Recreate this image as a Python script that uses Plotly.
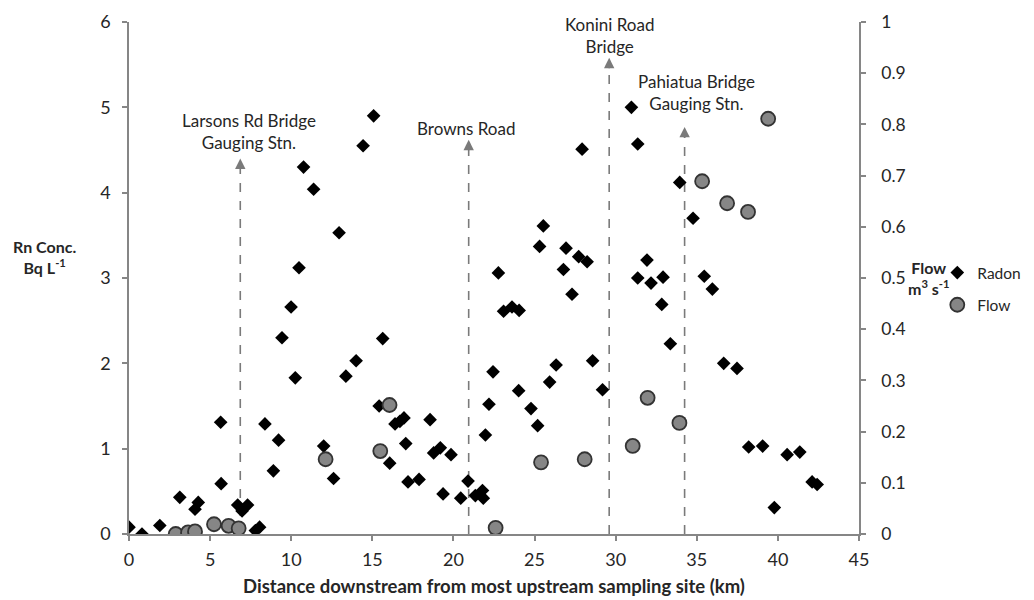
import plotly.graph_objects as go

# ---- data ----
radon_km = [0.0, 0.8, 1.9, 3.13, 4.07, 4.27, 5.65, 5.68, 6.70, 6.97, 7.31, 7.79, 8.05,
            8.38, 8.90, 9.22, 9.43, 9.99, 10.25, 10.48, 10.76, 11.38, 12.0, 12.61, 12.95,
            13.37, 14.0, 14.43, 15.08, 15.42, 15.64, 16.07, 16.40, 16.70, 16.95, 17.06,
            17.2, 17.88, 18.56, 18.78, 19.19, 19.36, 19.85, 20.45, 20.90, 21.35, 21.79,
            21.84, 21.97, 22.19, 22.44, 22.77, 23.09, 23.61, 24.05, 24.02, 24.78, 25.19,
            25.31, 25.54, 25.93, 26.33, 26.78, 26.94, 27.31, 27.72, 27.93, 28.24, 28.58,
            29.19, 30.97, 31.36, 31.36, 31.93, 32.18, 32.84, 32.92, 33.37, 33.95, 34.77,
            35.46, 35.96, 36.66, 37.48, 38.2, 39.06, 39.78, 40.57, 41.35, 42.11, 42.42]
radon_bq = [0.08, 0.0, 0.10, 0.43, 0.29, 0.37, 1.31, 0.59, 0.34, 0.27, 0.34, 0.04, 0.08,
            1.29, 0.74, 1.10, 2.30, 2.66, 1.83, 3.12, 4.30, 4.04, 1.03, 0.65, 3.53,
            1.85, 2.03, 4.55, 4.90, 1.50, 2.29, 0.83, 1.29, 1.32, 1.36, 1.06,
            0.61, 0.64, 1.34, 0.95, 1.01, 0.47, 0.93, 0.42, 0.62, 0.45, 0.51,
            0.42, 1.16, 1.52, 1.90, 3.06, 2.61, 2.66, 2.62, 1.68, 1.47, 1.27,
            3.37, 3.61, 1.78, 1.98, 3.10, 3.35, 2.81, 3.25, 4.51, 3.19, 2.03,
            1.69, 5.00, 4.57, 3.00, 3.21, 2.94, 2.69, 3.01, 2.23, 4.12, 3.70,
            3.02, 2.87, 2.00, 1.94, 1.02, 1.03, 0.31, 0.93, 0.96, 0.61, 0.58]

flow_km = [2.88, 3.64, 4.07, 5.24, 6.14, 6.76, 12.12, 15.49, 16.06, 22.6, 25.40, 28.09,
           31.05, 31.97, 33.93, 35.33, 36.87, 38.16, 39.40]
flow_m3s = [0.0, 0.003, 0.005, 0.019, 0.016, 0.011, 0.146, 0.162, 0.252, 0.012, 0.140,
            0.146, 0.172, 0.266, 0.217, 0.689, 0.646, 0.629, 0.811]

site_names = ["Larsons Rd Bridge<br>Gauging Stn.", "Browns Road",
              "Konini Road<br>Bridge", "Pahiatua Bridge<br>Gauging Stn."]
site_km = [6.86, 20.94, 29.6, 34.25]
site_arrow_top = [4.40, 4.62, 5.58, 4.77]
site_label_x = [7.42, 20.80, 29.61, 35.0]
site_label_y = [4.715, 4.756, 5.845, 5.177]

x_ticks = [0, 5, 10, 15, 20, 25, 30, 35, 40, 45]
y_ticks = [0, 1, 2, 3, 4, 5, 6]
y2_ticks = [0, 0.1, 0.2, 0.3, 0.4, 0.5, 0.6, 0.7, 0.8, 0.9, 1]

FONT = "Lato"
TXT = "#262626"
AX = "#868686"
ARROW = "#7a7a7a"

# page offset (body margin) and plot-area geometry, in screenshot pixels
OFF = 8
L, R, T, B = 128.7, 858.7, 21.7, 534.3
W, H = R - L, B - T


def px(xp):
    return (xp - L) / W


def py(yp):
    return (B - yp) / H


fig = go.Figure()
fig.add_trace(go.Scatter(
    x=radon_km, y=radon_bq, mode="markers", name="Radon", legendgroup="r",
    marker=dict(symbol="diamond", size=10.5, color="#000000", line=dict(width=0)),
    yaxis="y"))
fig.add_trace(go.Scatter(
    x=flow_km, y=flow_m3s, mode="markers", name="Flow", legendgroup="f",
    marker=dict(symbol="circle", size=14, color="#868686",
                line=dict(width=1.8, color="#333333")),
    yaxis="y2"))

shapes = []
annotations = []
for name, xk, top, lx, ly in zip(site_names, site_km, site_arrow_top, site_label_x, site_label_y):
    shapes.append(dict(type="line", xref="x", yref="y", x0=xk, x1=xk, y0=0, y1=top - 0.08,
                       line=dict(color=ARROW, width=1.6, dash="dash"), layer="below"))
    annotations.append(dict(x=xk, y=top, xref="x", yref="y", ax=0, ay=12, axref="pixel",
                            ayref="pixel", text="", showarrow=True, arrowhead=2,
                            arrowsize=1.3, arrowwidth=1.6, arrowcolor=ARROW, standoff=0))
    annotations.append(dict(x=lx, y=ly, xref="x", yref="y", text=name, showarrow=False,
                            xanchor="center", yanchor="middle", align="center",
                            font=dict(family=FONT, size=17, color=TXT)))

# axis titles (horizontal, as in the reference)
annotations.append(dict(xref="paper", yref="paper", x=px(44), y=py(257),
                        text="<b>Rn Conc.</b><br><b>Bq L<sup>-1</sup></b>", showarrow=False,
                        xanchor="center", yanchor="middle", align="center",
                        font=dict(family=FONT, size=16, color=TXT)))
annotations.append(dict(xref="paper", yref="paper", x=px(929), y=py(278),
                        text="<b>Flow</b><br><b>m<sup>3</sup> s<sup>-1</sup></b>", showarrow=False,
                        xanchor="center", yanchor="middle", align="center",
                        font=dict(family=FONT, size=16, color=TXT)))

fig.update_layout(
    width=1034, height=600,
    margin=dict(l=L - OFF, r=1034 - R + OFF, t=T - OFF, b=600 - B + OFF, autoexpand=False),
    paper_bgcolor="white", plot_bgcolor="white",
    font=dict(family=FONT, size=18, color=TXT),
    showlegend=True,
    legend=dict(x=px(937), y=py(256), xanchor="left", yanchor="top",
                font=dict(family=FONT, size=15.5, color=TXT), itemwidth=30,
                tracegroupgap=9, bgcolor="rgba(0,0,0,0)"),
    xaxis=dict(range=[0, 45], tickmode="array", tickvals=x_ticks, showgrid=False,
               zeroline=False, showline=True, linecolor=AX, linewidth=1.6,
               ticks="outside", ticklen=5, tickcolor=AX, tickwidth=1.6, automargin=False,
               ticklabelstandoff=4,
               tickfont=dict(family=FONT, size=18, color=TXT),
               title=dict(text="<b>Distance downstream from most upstream sampling site (km)</b>",
                          font=dict(family=FONT, size=18.5, color=TXT), standoff=11)),
    yaxis=dict(range=[0, 6], tickmode="array", tickvals=y_ticks, showgrid=False,
               zeroline=False, showline=True, linecolor=AX, linewidth=1.6,
               ticks="outside", ticklen=5, tickcolor=AX, tickwidth=1.6,
               ticklabelstandoff=8, automargin=False,
               tickfont=dict(family=FONT, size=18, color=TXT)),
    yaxis2=dict(range=[0, 1], overlaying="y", side="right", tickmode="array",
                tickvals=y2_ticks, showgrid=False, zeroline=False, showline=True,
                linecolor=AX, linewidth=1.6, ticks="outside", ticklen=5, tickcolor=AX,
                tickwidth=1.6, ticklabelstandoff=12, automargin=False,
                tickfont=dict(family=FONT, size=17.5, color=TXT)),
    shapes=shapes,
    annotations=annotations,
)

fig.write_html("out.html")
